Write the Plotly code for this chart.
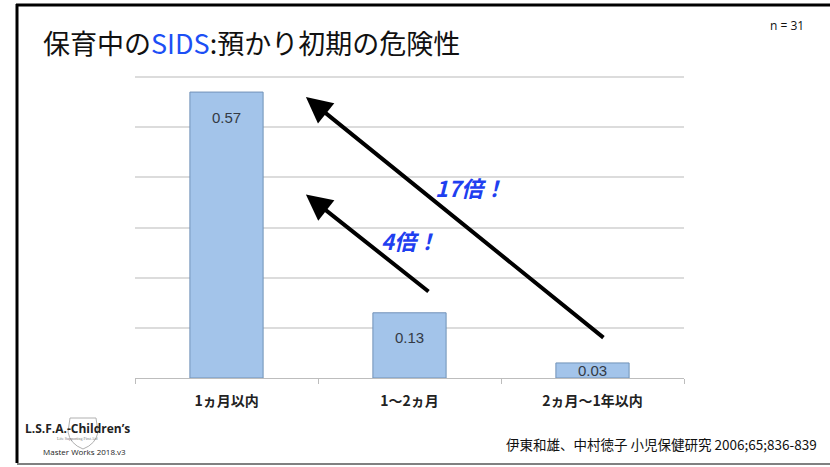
import plotly.graph_objects as go

W, H = 830, 467

categories = ["1ヵ月以内", "1～2ヵ月", "2ヵ月～1年以内"]
values = [0.57, 0.13, 0.03]
ratio_labels = ["17倍！", "4倍！"]
title_parts = ["保育中の", "SIDS", ":預かり初期の危険性"]
n_label = "n = 31"
citation = "伊東和雄、中村徳子 小児保健研究 2006;65;836-839"

JP = "Noto Sans CJK JP, sans-serif"

def px(x):
    return x / W

def py(y):
    return 1 - y / H

fig = go.Figure()
fig.add_trace(go.Bar(
    x=categories, y=values, width=0.4,
    marker=dict(color="#a3c4ea", line=dict(color="#7192b8", width=1)),
    hoverinfo="skip",
))

annotations = []
label_font = dict(family="Liberation Sans, Arial", size=15, color="#333a45")
for c, v in zip(categories, values):
    if v < 0.06:
        annotations.append(dict(x=c, y=v / 2, xref="x", yref="y", text=f"{v:.2f}",
                                showarrow=False, font=label_font))
    else:
        annotations.append(dict(x=c, y=v, xref="x", yref="y", text=f"{v:.2f}", yshift=-25,
                                showarrow=False, font=label_font))

arrow_style = dict(xref="x", yref="y", axref="x", ayref="y", showarrow=True,
                   arrowhead=2, arrowsize=1.3, arrowwidth=4, arrowcolor="#000000", text="")
annotations.append(dict(x=0.434, y=0.56, ax=2.068, ay=0.078, **arrow_style))
annotations.append(dict(x=0.434, y=0.366, ax=1.112, ay=0.17, **arrow_style))

ratio_font = dict(family=JP, size=22, color="#1f3ff0")
annotations.append(dict(x=1.33, y=0.38, xref="x", yref="y", showarrow=False,
                        text=f"<b><i>{ratio_labels[0]}</i></b>", font=ratio_font))
annotations.append(dict(x=1.0, y=0.276, xref="x", yref="y", showarrow=False,
                        text=f"<b><i>{ratio_labels[1]}</i></b>", font=ratio_font))

annotations.append(dict(x=px(41), y=py(42), xref="paper", yref="paper", xanchor="left", yanchor="middle",
                        showarrow=False,
                        text=f"{title_parts[0]}<span style='color:#1c4ff5'>{title_parts[1]}</span>{title_parts[2]}",
                        font=dict(family=JP, size=27, color="#111111")))
annotations.append(dict(x=px(787), y=py(26), xref="paper", yref="paper", xanchor="center", yanchor="middle",
                        showarrow=False, text=n_label,
                        font=dict(family="Open Sans, Liberation Sans", size=12, color="#111111")))
annotations.append(dict(x=px(819), y=py(444), xref="paper", yref="paper", xanchor="right", yanchor="middle",
                        showarrow=False, text=citation,
                        font=dict(family=JP, size=13.5, color="#111111")))
annotations.append(dict(x=px(77), y=py(428), xref="paper", yref="paper", xanchor="center", yanchor="middle",
                        showarrow=False, text="<b>L.S.F.A.-Children’s</b>",
                        font=dict(family="Open Sans, Liberation Sans", size=12, color="#222222")))
annotations.append(dict(x=px(77), y=py(438), xref="paper", yref="paper", xanchor="center", yanchor="middle",
                        showarrow=False, text="Life Supporting First Aid",
                        font=dict(family="Liberation Serif", size=4, color="#777777")))
annotations.append(dict(x=px(84), y=py(451), xref="paper", yref="paper", xanchor="center", yanchor="middle",
                        showarrow=False, text="Master Works 2018.v3",
                        font=dict(family="Open Sans, Liberation Sans", size=8, color="#222222")))

shapes = [
    dict(type="line", xref="paper", yref="paper", x0=px(17), x1=px(17), y0=py(4), y1=py(463),
         line=dict(color="#000000", width=3)),
    dict(type="line", xref="paper", yref="paper", x0=px(16), x1=1, y0=py(5), y1=py(5),
         line=dict(color="#000000", width=3)),
    dict(type="line", xref="paper", yref="paper", x0=px(17), x1=1, y0=py(464), y1=py(464),
         line=dict(color="#808080", width=2)),
    dict(type="path", xref="paper", yref="paper",
         path=f"M {px(70)},{py(418)} L {px(96)},{py(418)} L {px(98)},{py(432)} Q {px(96)},{py(444)} {px(83)},{py(449)} Q {px(70)},{py(444)} {px(68)},{py(432)} Z",
         line=dict(color="#b0b0b0", width=1), layer="below"),
]

fig.update_layout(
    width=W, height=H, autosize=False,
    margin=dict(l=0, r=0, t=0, b=0),
    paper_bgcolor="#ffffff", plot_bgcolor="#ffffff",
    showlegend=False,
    xaxis=dict(domain=[px(135), px(684)], showgrid=False, showline=True, linecolor="#bdbdbd", linewidth=1,
               ticks="outside", tickson="boundaries", ticklen=5, tickcolor="#bdbdbd",
               ticklabelstandoff=10,
               tickfont=dict(family=JP, size=14, color="#222222", weight="bold"),
               zeroline=False, fixedrange=True),
    yaxis=dict(domain=[py(378), py(72)], range=[0, 0.61], dtick=0.1, showticklabels=False,
               showgrid=True, gridcolor="#dcdcdc", gridwidth=1.5, zeroline=False, showline=False, fixedrange=True),
    annotations=annotations,
    shapes=shapes,
)

fig.write_html("out.html", config={"displayModeBar": False},
               post_script="document.body.style.margin='0';document.body.style.overflow='hidden';")
